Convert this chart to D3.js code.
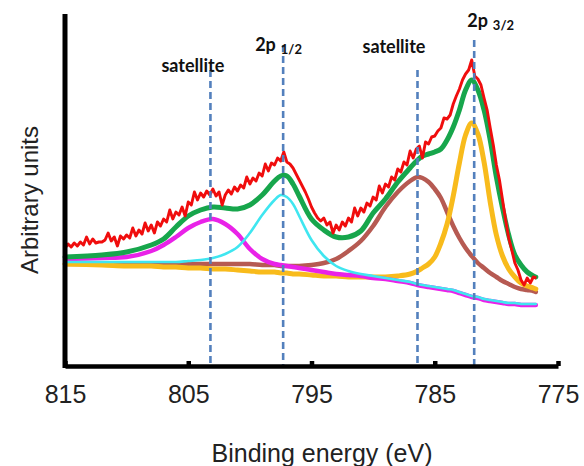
<!DOCTYPE html>
<html>
<head>
<meta charset="utf-8">
<script src="https://cdn.jsdelivr.net/npm/d3@7/dist/d3.min.js"></script>
<style>
  html, body { margin: 0; padding: 0; background: #fff; }
  svg { display: block; }
</style>
</head>
<body>
<svg id="chart" width="584" height="466"></svg>
<script>
// Co 2p core-level spectrum with fitted components

// measured spectrum: binding energy grid (eV) and intensity (a.u.)
const rawStart = 815, rawStep = 0.25;
const rawCounts = [
  11.8, 12.2, 11.9, 12.3, 12.0, 12.4, 12.1, 12.9, 12.2, 12.7, 12.3, 12.4, 12.4, 12.6, 13.3, 12.5,
  12.9, 12.0, 13.0, 12.7, 13.1, 12.8, 13.8, 13.0, 13.6, 13.2, 14.3, 13.5, 14.1, 13.3, 14.4, 14.0,
  14.7, 14.4, 15.6, 14.7, 15.4, 15.1, 15.9, 15.0, 16.4, 16.1, 17.4, 16.6, 17.3, 16.9, 17.5, 17.1,
  17.7, 17.0, 17.4, 16.1, 17.1, 17.6, 17.2, 17.9, 17.5, 18.1, 17.8, 18.9, 18.2, 18.8, 18.5, 19.3,
  19.0, 20.2, 19.5, 20.3, 20.1, 20.8, 20.5, 21.4, 20.4, 20.2, 19.8, 19.2, 18.6, 18.0, 17.4, 16.7,
  15.9, 15.3, 14.8, 14.5, 14.8, 14.1, 14.4, 13.3, 14.1, 13.6, 14.4, 14.0, 14.8, 14.4, 15.8, 15.0,
  15.8, 15.4, 16.3, 16.0, 16.9, 16.6, 18.0, 17.3, 18.2, 17.9, 18.9, 18.6, 19.7, 19.4, 20.4, 20.1,
  21.5, 20.8, 21.7, 22.0, 20.8, 22.4, 22.2, 22.9, 23.0, 23.5, 23.8, 24.8, 24.7, 25.1, 26.2, 27.0,
  27.7, 28.6, 29.2, 29.6, 30.6, 29.0, 28.7, 28.1, 26.8, 25.6, 23.8, 22.1, 20.1, 18.6, 16.6, 14.6,
  12.8, 11.6, 10.3, 9.6, 8.6, 8.1, 8.8, 8.3, 8.9, 8.8
];
const rawE = rawCounts.map((_, i) => rawStart - i * rawStep);

// fitted curves, sampled on a common energy grid (eV)
const fitE = [815, 812, 810, 808, 807, 806, 805, 804, 803, 802, 801, 800, 799, 798, 797.5, 797,
  796.5, 796, 795, 794, 793, 792, 791, 790, 789, 788, 787, 786.4, 786, 785.5, 785, 784.5, 784,
  783.5, 783, 782.5, 782, 781.5, 781, 780.5, 780, 779.5, 779, 778.5, 778, 777.5, 777, 776.8];

// 2p3/2 main peak
const peak3over2 = [10.2, 10.1, 10.0, 10.0, 9.9, 9.9, 9.8, 9.8, 9.7, 9.7, 9.6, 9.5, 9.4, 9.4, 9.3, 9.3,
  9.2, 9.2, 9.1, 9.0, 9.0, 8.9, 8.9, 8.9, 8.9, 9.0, 9.2, 9.5, 9.8, 10.2, 10.9, 12.3, 14.2,
  17.0, 20.3, 23.1, 24.3, 23.2, 20.4, 16.4, 13.1, 11.0, 9.7, 8.9, 8.3, 8.0, 7.8, 7.7];
// 2p3/2 shake-up satellite
const sat3over2 = [10.2, 10.2, 10.2, 10.2, 10.2, 10.2, 10.2, 10.2, 10.2, 10.2, 10.2, 10.2, 10.1, 10.1, 10.0, 10.0,
  10.0, 10.0, 10.1, 10.3, 10.7, 11.5, 12.5, 14.0, 15.9, 17.4, 18.5, 18.9, 18.8, 18.4, 17.7, 16.8, 15.4,
  14.0, 12.8, 11.8, 11.0, 10.3, 9.8, 9.3, 8.9, 8.5, 8.2, 7.9, 7.7, 7.6, 7.5, 7.4];
// 2p1/2 shake-up satellite
const sat1over2 = [10.7, 10.8, 10.9, 11.5, 12.1, 12.9, 13.8, 14.4, 14.7, 14.2, 13.2, 11.7, 10.7, 10.2, 10.1, 10.0,
  9.9, 9.8, 9.6, 9.4, 9.2, 9.1, 9.0, 8.8, 8.7, 8.5, 8.3, 8.1, 8.0, 7.9, 7.8, 7.7, 7.6,
  7.5, 7.3, 7.1, 6.9, 6.8, 6.6, 6.5, 6.4, 6.3, 6.2, 6.2, 6.1, 6.1, 6.1, 6.1];
// 2p1/2 main peak
const peak1over2 = [10.4, 10.4, 10.4, 10.4, 10.4, 10.4, 10.5, 10.6, 10.8, 11.2, 11.9, 13.3, 15.1, 16.6, 17.1, 16.9,
  16.2, 15.0, 12.6, 11.0, 10.0, 9.5, 9.2, 9.0, 8.8, 8.6, 8.4, 8.2, 8.1, 8.0, 7.9, 7.8, 7.7,
  7.6, 7.4, 7.2, 7.0, 6.9, 6.7, 6.6, 6.5, 6.4, 6.3, 6.3, 6.2, 6.2, 6.2, 6.2];
// fit envelope
const envelope = [10.9, 11.1, 11.4, 12.1, 12.7, 13.9, 15.0, 15.6, 15.9, 15.8, 15.7, 16.1, 17.1, 18.5, 19.0, 19.0,
  18.2, 17.0, 14.7, 13.6, 12.9, 12.9, 13.5, 15.3, 16.7, 18.4, 19.8, 20.6, 21.0, 21.2, 21.4, 21.7, 22.6,
  23.9, 25.6, 27.6, 28.6, 27.6, 25.6, 22.6, 18.9, 15.8, 13.1, 11.1, 10.1, 9.4, 9.0, 8.9];

// peak assignments
const markE = [803.2, 797.3, 786.4, 781.8];
const markName = ["satellite", "2p", "satellite", "2p"];
const markSub = ["", "1/2", "", "3/2"];

// axis ticks
const xTicks = [815, 805, 795, 785, 775];

const svg = d3.select("#chart");

const x = d3.scaleLinear().domain([815, 775]).range([65, 558]);
const y = d3.scaleLinear().domain([0, 35]).range([366, 16]);

// fitted components
const comps = [
  { vals: sat3over2, color: "#b65a52", width: 4.5 },
  { vals: peak3over2, color: "#f8bb1c", width: 5 },
  { vals: sat1over2, color: "#e922e8", width: 4.5 },
  { vals: peak1over2, color: "#3fe6f0", width: 2.6 },
  { vals: envelope, color: "#17a64c", width: 5 }
];

const fitLine = d3.line()
  .x(d => x(d[0]))
  .y(d => y(d[1]))
  .curve(d3.curveCatmullRom.alpha(0.5));

svg.append("g").selectAll("path")
  .data(comps)
  .join("path")
  .attr("d", c => fitLine(fitE.map((e, i) => [e, c.vals[i]])))
  .attr("fill", "none")
  .attr("stroke", c => c.color)
  .attr("stroke-width", c => c.width)
  .attr("stroke-linecap", "round")
  .attr("stroke-linejoin", "round");

// measured spectrum
const rawLine = d3.line()
  .x(d => x(d[0]))
  .y(d => y(d[1]));

svg.append("path")
  .attr("d", rawLine(rawE.map((e, i) => [e, rawCounts[i]])))
  .attr("fill", "none")
  .attr("stroke", "#f00d0d")
  .attr("stroke-width", 2.9)
  .attr("stroke-linejoin", "round");

// peak position markers
const markTop = [29.6, 32.1, 29.6, 32.6];
svg.append("g").selectAll("line")
  .data(markE)
  .join("line")
  .attr("x1", d => x(d)).attr("x2", d => x(d))
  .attr("y1", (d, i) => y(markTop[i])).attr("y2", y(0))
  .attr("stroke", "#5380bd")
  .attr("stroke-width", 2.6)
  .attr("stroke-dasharray", "7,4");

// marker labels
const labelDx = [-49, -28, -55, -7];
const labelY = [29.4, 31.5, 31.3, 33.9];
const labels = svg.append("g")
  .attr("font-family", "Lato, 'Open Sans', sans-serif")
  .attr("font-weight", "bold")
  .attr("fill", "#111");
markE.forEach((e, i) => {
  const t = labels.append("text")
    .attr("x", x(e) + labelDx[i])
    .attr("y", y(labelY[i]))
    .attr("font-size", 18)
    .text(markName[i]);
  if (markSub[i]) {
    t.append("tspan")
      .attr("dx", 5)
      .attr("dy", 3)
      .attr("font-size", 13)
      .text(markSub[i]);
  }
});

// axes
const xAxis = svg.append("g")
  .attr("transform", `translate(0,${y(0)})`)
  .call(d3.axisBottom(x).tickValues(xTicks).tickFormat(d3.format("d"))
    .tickSizeInner(-5).tickSizeOuter(0).tickPadding(19));
xAxis.select(".domain").attr("stroke", "#000").attr("stroke-width", 4.5);
xAxis.selectAll(".tick line").attr("stroke", "#000").attr("stroke-width", 4.5);
xAxis.selectAll(".tick text")
  .attr("font-family", "'Liberation Sans', Arial, sans-serif")
  .attr("font-size", 25)
  .attr("fill", "#222");

const yAxis = svg.append("g")
  .attr("transform", `translate(${x(815)},0)`)
  .call(d3.axisLeft(y).tickValues([]).tickSizeOuter(0));
yAxis.select(".domain").attr("stroke", "#000").attr("stroke-width", 5)
  .attr("d", `M0,${y(35.2)}V${y(0) + 2}`);

// axis titles
svg.append("text")
  .attr("x", 322).attr("y", 462)
  .attr("text-anchor", "middle")
  .attr("font-family", "'Liberation Sans', Arial, sans-serif")
  .attr("font-size", 25)
  .attr("fill", "#222")
  .text("Binding energy (eV)");

svg.append("text")
  .attr("transform", "translate(38,200) rotate(-90)")
  .attr("text-anchor", "middle")
  .attr("font-family", "'Liberation Sans', Arial, sans-serif")
  .attr("font-size", 24)
  .attr("fill", "#222")
  .text("Arbitrary units");
</script>
</body>
</html>
